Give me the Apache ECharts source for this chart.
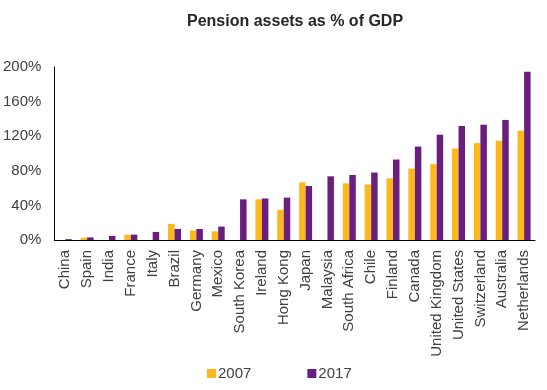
<!DOCTYPE html>
<html>
<head>
<meta charset="utf-8">
<script src="https://cdn.jsdelivr.net/npm/echarts@6/dist/echarts.min.js"></script>
<style>html,body{margin:0;padding:0;background:#fff;}#c{width:547px;height:390px;}</style>
</head>
<body>
<div id="c"></div>
<script>
const categories = ["China","Spain","India","France","Italy","Brazil","Germany","Mexico","South Korea","Ireland","Hong Kong","Japan","Malaysia","South Africa","Chile","Finland","Canada","United Kingdom","United States","Switzerland","Australia","Netherlands"];
const values2007 = [null,2.7,null,6,null,18.6,11,10,null,47,35,66.7,null,65.5,64.3,71.3,82.6,87.6,105.8,112,114.7,126.4];
const values2017 = [1,3,4.7,6.2,9.3,12.8,12.8,15.5,47,48,49,62.4,73.6,75.2,78,93,108,121.7,131.8,133.3,138.8,194.5];
const yTicks = [0,40,80,120,160,200];

const chart = echarts.init(document.getElementById('c'));
const font = 'Liberation Sans, Arial, sans-serif';
chart.setOption({
  animation: false,
  title: {
    text: 'Pension assets as % of GDP',
    left: 182, top: 9,
    textStyle: {fontFamily: font, fontSize: 16, fontWeight: 'bold', color: '#262626'}
  },
  legend: {
    left: 202, top: 361,
    itemWidth: 9, itemHeight: 9, itemGap: 56,
    icon: 'rect',
    textStyle: {fontFamily: font, fontSize: 15, color: '#404040', padding: [0,0,0,-3]},
    data: ['2007','2017']
  },
  grid: {left: 54, right: 12, top: 67, bottom: 150},
  xAxis: {
    type: 'category', data: categories,
    axisLine: {lineStyle: {color: '#000', width: 1}},
    axisTick: {show: false},
    axisLabel: {rotate: 90, interval: 0, margin: 10, fontFamily: font, fontSize: 15, color: '#404040'}
  },
  yAxis: {
    type: 'value', min: yTicks[0], max: yTicks[yTicks.length-1], interval: 40,
    axisLine: {show: true, lineStyle: {color: '#000', width: 1}},
    axisTick: {show: false},
    splitLine: {show: false},
    axisLabel: {margin: 13, fontFamily: font, fontSize: 15, color: '#404040', formatter: '{value}%'}
  },
  series: [
    {name: '2007', type: 'bar', data: values2007, barWidth: 6.5, barGap: '0%', itemStyle: {color: '#FFB81C'}},
    {name: '2017', type: 'bar', data: values2017, barWidth: 6.5, barGap: '0%', itemStyle: {color: '#6A1F7F'}}
  ]
});
</script>
</body>
</html>
